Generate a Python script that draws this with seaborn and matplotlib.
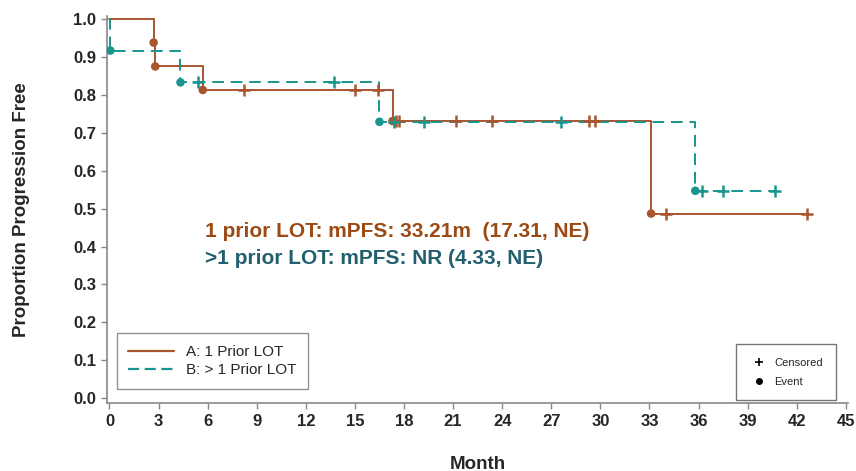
import numpy as np
import pandas as pd
import matplotlib
matplotlib.use('Agg')
import matplotlib.pyplot as plt
from matplotlib.lines import Line2D
import seaborn as sns

# 曲线A: 1 prior LOT (阶梯点)
a_time = [0, 2.7, 2.8, 5.7, 17.3, 33.1, 42.6]
a_surv = [1.0, 0.938, 0.875, 0.813, 0.731, 0.487, 0.487]
a_event_time = [2.7, 2.8, 5.7, 17.3, 33.1]
a_event_surv = [0.938, 0.875, 0.813, 0.731, 0.487]
a_cens_time = [8.2, 15.0, 16.4, 17.5, 17.7, 21.2, 23.4, 29.3, 29.7, 34.0, 42.6]
a_cens_surv = [0.813, 0.813, 0.813, 0.731, 0.731, 0.731, 0.731, 0.731, 0.731, 0.487, 0.487]

# 曲线B: >1 prior LOT
b_time = [0, 0.05, 4.34, 16.5, 35.8, 40.7]
b_surv = [1.0, 0.917, 0.833, 0.729, 0.547, 0.547]
b_event_time = [0.05, 4.34, 16.5, 35.8]
b_event_surv = [0.917, 0.833, 0.729, 0.547]
b_cens_time = [5.4, 13.75, 17.4, 19.2, 27.6, 36.2, 37.5, 40.7]
b_cens_surv = [0.833, 0.833, 0.729, 0.729, 0.729, 0.547, 0.547, 0.547]

x_ticks = list(range(0, 46, 3))
y_ticks = [round(v * 0.1, 1) for v in range(11)]

BROWN = '#A9552F'
TEAL = '#18958F'

sns.set_style('white')
plt.rcParams['font.family'] = ['Liberation Sans', 'DejaVu Sans']

fig = plt.figure(figsize=(8.56, 4.71), dpi=100)
ax = fig.add_axes([0.125, 0.144, 0.866, 0.822])

# 阶梯线
sns.lineplot(x=a_time, y=a_surv, ax=ax, color=BROWN, linewidth=1.4,
             drawstyle='steps-post', estimator=None, sort=False)
sns.lineplot(x=b_time, y=b_surv, ax=ax, color=TEAL, linewidth=1.4,
             drawstyle='steps-post', estimator=None, sort=False,
             dashes=False)
ax.lines[-1].set_dashes((6, 3.5))

# 事件点与删失点
sns.scatterplot(x=a_event_time, y=a_event_surv, ax=ax, color=BROWN, s=38,
                edgecolor='none', zorder=4)
sns.scatterplot(x=b_event_time, y=b_event_surv, ax=ax, color=TEAL, s=38,
                edgecolor='none', zorder=4)
sns.scatterplot(x=a_cens_time, y=a_cens_surv, ax=ax, color=BROWN, marker='+',
                s=70, linewidth=1.8, zorder=4)
sns.scatterplot(x=b_cens_time, y=b_cens_surv, ax=ax, color=TEAL, marker='+',
                s=70, linewidth=1.8, zorder=4)

ax.set_xlim(-0.15, 45.15)
ax.set_ylim(-0.013, 1.008)
ax.set_xticks(x_ticks)
ax.set_yticks(y_ticks)
ax.set_xticklabels([str(t) for t in x_ticks], fontsize=12, fontweight='bold')
ax.set_yticklabels([f'{t:.1f}' for t in y_ticks], fontsize=12, fontweight='bold')
ax.tick_params(axis='both', direction='out', length=4, width=1, color='#888888',
               pad=4, bottom=True, left=True)
for side in ['top', 'right']:
    ax.spines[side].set_visible(False)
for side in ['left', 'bottom']:
    ax.spines[side].set_color('#888888')
    ax.spines[side].set_linewidth(1.2)

ax.set_xlabel('Month', fontsize=13.5, fontweight='bold', labelpad=19)
ax.set_ylabel('Proportion Progression Free', fontsize=13.5, fontweight='bold', labelpad=31)

# 中位PFS文字
ax.text(5.83, 0.44, '1 prior LOT: mPFS: 33.21m  (17.31, NE)', color='#9C4A14',
        fontsize=15, fontweight='bold', va='center')
ax.text(5.83, 0.369, '>1 prior LOT: mPFS: NR (4.33, NE)', color='#22606F',
        fontsize=15, fontweight='bold', va='center')

# 图例
h1 = [Line2D([], [], color=BROWN, lw=1.6),
      Line2D([], [], color=TEAL, lw=1.6, dashes=(5, 2.5))]
leg1 = ax.legend(h1, ['A: 1 Prior LOT', 'B: > 1 Prior LOT'], loc='lower left',
                 bbox_to_anchor=(0.003, 0.017), fontsize=11, frameon=True,
                 fancybox=False, edgecolor='#777777', handlelength=3.0,
                 borderpad=0.75, labelspacing=0.3, handletextpad=0.8)
leg1.get_frame().set_linewidth(1.0)
ax.add_artist(leg1)

h2 = [Line2D([], [], color='black', marker='+', linestyle='none', markersize=6, mew=1.2),
      Line2D([], [], color='black', marker='o', linestyle='none', markersize=4)]
leg2 = ax.legend(h2, ['Censored', 'Event'], loc='lower right',
                 bbox_to_anchor=(0.988, 0.0), fontsize=8, frameon=True,
                 fancybox=False, edgecolor='#555555', borderpad=1.2,
                 labelspacing=0.8, handletextpad=0.6, borderaxespad=0.3,
                 handlelength=1.6)
leg2.get_frame().set_linewidth(1.0)

plt.savefig('out.png', dpi=100)
